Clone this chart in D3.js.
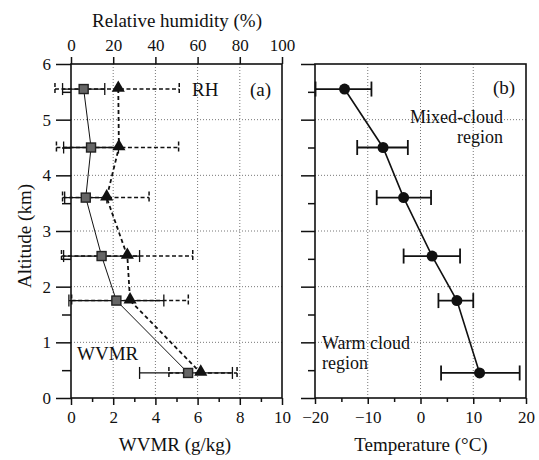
<!DOCTYPE html>
<html>
<head>
<meta charset="utf-8">
<script src="https://cdn.jsdelivr.net/npm/d3@7"></script>
<style>
body { margin:0; background:#fff; }
</style>
</head>
<body>
<svg id="chart" width="539" height="460"></svg>
<script>
//## data
var altitude = [5.55, 4.5, 3.6, 2.55, 1.75, 0.45]; // km
var wvmr   = [0.6, 0.95, 0.7, 1.45, 2.15, 5.55];   // g/kg
var wvmrLo = [-0.4, -0.35, -0.3, -0.35, -0.1, 3.25];
var wvmrHi = [1.6, 2.25, 1.7, 3.25, 4.4, 7.65];
var rh   = [22.4, 22.7, 16.9, 26.7, 28, 61.5];      // %
var rhLo = [-7.6, -6.9, -4, -4.5, 0.3, 46.4];
var rhHi = [51.3, 51, 37, 57.7, 55.6, 78.7];
var temp   = [-14.4, -7.1, -3.2, 2.2, 6.9, 11.2];   // deg C
var tempLo = [-19.9, -12, -8.3, -3.2, 3.4, 3.9];
var tempHi = [-9.3, -2.4, 2.0, 7.5, 10, 18.8];

var altTicks = [0, 1, 2, 3, 4, 5, 6];
var wvmrTicks = [0, 2, 4, 6, 8, 10];
var rhTicks = [0, 20, 40, 60, 80, 100];
var tempTicks = [-20, -10, 0, 10, 20];

var serif = "'Liberation Serif', 'Times New Roman', 'DejaVu Serif', serif";
var svg = d3.select("#chart");

//## scales
var y = d3.scaleLinear().domain([0, 6]).range([398, 64]);
var xW = d3.scaleLinear().domain([0, 10]).range([71, 282]);
var xR = d3.scaleLinear().domain([0, 100]).range([71, 282]);
var xT = d3.scaleLinear().domain([-20, 20]).range([315, 526]);

//## grid + frame for a panel
function drawPanel(x, xticks) {
    var g = svg.append("g");
    var x0 = x.range()[0], x1 = x.range()[1];
    g.selectAll(".hg").data(altTicks.slice(1, -1)).enter().append("line")
        .attr("x1", x0).attr("x2", x1)
        .attr("y1", function(d){ return y(d); }).attr("y2", function(d){ return y(d); })
        .attr("stroke", "#777").attr("stroke-width", 1).attr("stroke-dasharray", "1,2");
    g.selectAll(".vg").data(xticks.slice(1, -1)).enter().append("line")
        .attr("x1", function(d){ return x(d); }).attr("x2", function(d){ return x(d); })
        .attr("y1", y(6)).attr("y2", y(0))
        .attr("stroke", "#777").attr("stroke-width", 1).attr("stroke-dasharray", "1,2");
    g.append("rect")
        .attr("x", x0).attr("y", y(6))
        .attr("width", x1 - x0).attr("height", y(0) - y(6))
        .attr("fill", "none").attr("stroke", "#111").attr("stroke-width", 1.6);
    return g;
}
drawPanel(xW, wvmrTicks);
drawPanel(xT, tempTicks);

//## axes
function styleAxis(g) {
    g.attr("font-family", null);
    g.select(".domain").remove();
    g.selectAll(".tick line").attr("stroke", "#111").attr("stroke-width", 1.5);
    g.selectAll(".tick text")
        .style("font-family", serif)
        .style("font-size", "17px").attr("fill", "#111");
}
var leftA = svg.append("g").attr("transform", "translate(71,0)")
    .call(d3.axisLeft(y).tickValues(altTicks).tickSize(15).tickPadding(5).tickFormat(d3.format("d")));
styleAxis(leftA);
var leftMinor = svg.append("g").attr("transform", "translate(71,0)")
    .call(d3.axisLeft(y).tickValues([0.5, 1.5, 2.5, 3.5, 4.5, 5.5]).tickSize(9).tickFormat(""));
styleAxis(leftMinor);

var leftB = svg.append("g").attr("transform", "translate(315,0)")
    .call(d3.axisLeft(y).tickValues(altTicks).tickSize(14).tickFormat(""));
styleAxis(leftB);
var leftBMinor = svg.append("g").attr("transform", "translate(315,0)")
    .call(d3.axisLeft(y).tickValues([0.5, 1.5, 2.5, 3.5, 4.5, 5.5]).tickSize(7).tickFormat(""));
styleAxis(leftBMinor);

var botA = svg.append("g").attr("transform", "translate(0,398)")
    .call(d3.axisBottom(xW).tickValues(wvmrTicks).tickSize(7).tickPadding(6));
styleAxis(botA);
var botAMinor = svg.append("g").attr("transform", "translate(0,398)")
    .call(d3.axisBottom(xW).tickValues([1, 3, 5, 7, 9]).tickSize(4).tickFormat(""));
styleAxis(botAMinor);

var botB = svg.append("g").attr("transform", "translate(0,398)")
    .call(d3.axisBottom(xT).tickValues(tempTicks).tickSize(6).tickPadding(7)
        .tickFormat(function(d){ return d < 0 ? "\u2212" + Math.abs(d) : d; }));
styleAxis(botB);
var botBMinor = svg.append("g").attr("transform", "translate(0,398)")
    .call(d3.axisBottom(xT).tickValues([-15, -5, 5, 15]).tickSize(4).tickFormat(""));
styleAxis(botBMinor);

var topA = svg.append("g").attr("transform", "translate(0,64)")
    .call(d3.axisTop(xR).tickValues(rhTicks).tickSize(7).tickPadding(6));
styleAxis(topA);

//## text helper
function note(x, yy, txt, anchor, size) {
    return svg.append("text").attr("x", x).attr("y", yy)
        .attr("text-anchor", anchor || "start")
        .style("font-family", serif)
        .style("font-size", (size || 19) + "px")
        .attr("fill", "#111").text(txt);
}

//## axis titles
note(177, 27, "Relative humidity (%)", "middle");
note(175, 451, "WVMR (g/kg)", "middle");
note(421, 451, "Temperature (\u00b0C)", "middle");
note(0, 0, "Altitude (km)", "middle").attr("transform", "translate(31,236) rotate(-90)");

//## error bars
function errBars(xs, lo, hi, dashed, capH, width) {
    var g = svg.append("g");
    var idx = d3.range(altitude.length);
    var dash = dashed ? "4,2.5" : null;
    g.selectAll(".eb").data(idx).enter().append("line")
        .attr("x1", function(i){ return xs(lo[i]); }).attr("x2", function(i){ return xs(hi[i]); })
        .attr("y1", function(i){ return y(altitude[i]); }).attr("y2", function(i){ return y(altitude[i]); })
        .attr("stroke", "#111").attr("stroke-width", width).attr("stroke-dasharray", dash);
    [lo, hi].forEach(function(arr) {
        g.selectAll(".cap").data(idx).enter().append("line")
            .attr("x1", function(i){ return xs(arr[i]); }).attr("x2", function(i){ return xs(arr[i]); })
            .attr("y1", function(i){ return y(altitude[i]) - capH / 2; })
            .attr("y2", function(i){ return y(altitude[i]) + capH / 2; })
            .attr("stroke", "#111").attr("stroke-width", width)
            .attr("stroke-dasharray", dashed ? "4,2" : null);
    });
}
errBars(xR, rhLo, rhHi, true, 12, 1.5);
errBars(xW, wvmrLo, wvmrHi, false, 12, 1.3);
errBars(xT, tempLo, tempHi, false, 15, 1.8);

//## connecting lines
var idx = d3.range(altitude.length);
svg.append("path").datum(idx)
    .attr("d", d3.line().x(function(i){ return xW(wvmr[i]); }).y(function(i){ return y(altitude[i]); }))
    .attr("fill", "none").attr("stroke", "#111").attr("stroke-width", 1);
svg.append("path").datum(idx)
    .attr("d", d3.line().x(function(i){ return xR(rh[i]); }).y(function(i){ return y(altitude[i]); }))
    .attr("fill", "none").attr("stroke", "#111").attr("stroke-width", 1.8).attr("stroke-dasharray", "4,3");
svg.append("path").datum(idx)
    .attr("d", d3.line().x(function(i){ return xT(temp[i]); }).y(function(i){ return y(altitude[i]); }))
    .attr("fill", "none").attr("stroke", "#111").attr("stroke-width", 1.6);

//## markers
svg.selectAll(".sq").data(idx).enter().append("rect")
    .attr("x", function(i){ return xW(wvmr[i]) - 4.5; })
    .attr("y", function(i){ return y(altitude[i]) - 4.5; })
    .attr("width", 9).attr("height", 9)
    .attr("fill", "#666").attr("stroke", "#222").attr("stroke-width", 1.4);
var tri = d3.symbol().type(d3.symbolTriangle).size(75);
svg.selectAll(".tri").data(idx).enter().append("path")
    .attr("d", tri)
    .attr("transform", function(i){ return "translate(" + xR(rh[i]) + "," + (y(altitude[i]) - 1) + ")"; })
    .attr("fill", "#111");
svg.selectAll(".dot").data(idx).enter().append("circle")
    .attr("cx", function(i){ return xT(temp[i]); })
    .attr("cy", function(i){ return y(altitude[i]); })
    .attr("r", 5.5).attr("fill", "#111");

//## annotations
note(192, 96, "RH");
note(250, 96, "(a)");
note(493, 94, "(b)");
note(77, 360, "WVMR");
note(503, 123, "Mixed-cloud", "end", 18);
note(503, 143, "region", "end", 18);
note(322, 349, "Warm cloud", "start", 18);
note(322, 369, "region", "start", 18);
</script>
</body>
</html>
